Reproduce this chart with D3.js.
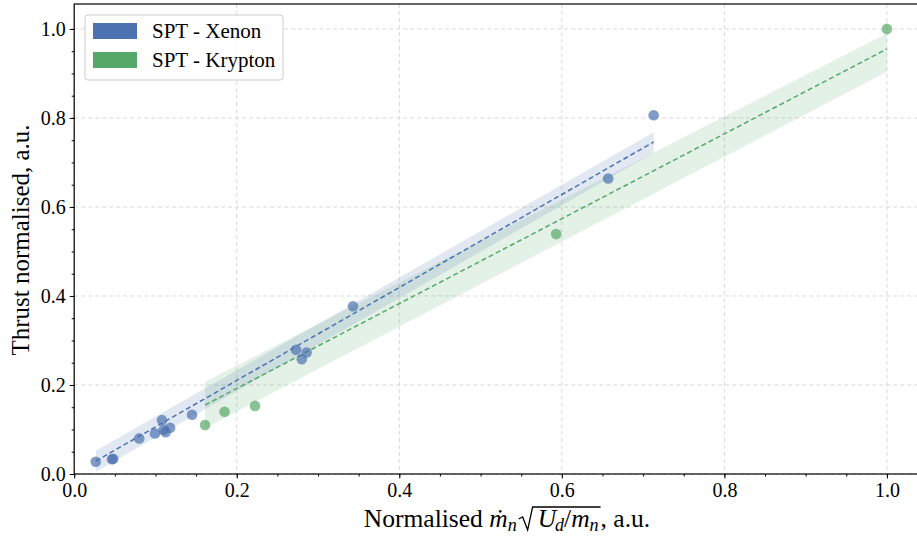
<!DOCTYPE html>
<html>
<head>
<meta charset="utf-8">
<script src="https://cdn.jsdelivr.net/npm/d3@7"></script>
<style>
  body { margin: 0; background: #fff; }
  svg text { font-family: "Liberation Serif", "DejaVu Serif", serif; fill: #000; }
</style>
</head>
<body>
<div id="chart"></div>
<script>
// values
const xenonX = [0.0265, 0.048, 0.0465, 0.080, 0.0994, 0.108, 0.110, 0.1126, 0.118, 0.145, 0.273, 0.286, 0.280, 0.343, 0.657, 0.713];
const xenonY = [0.0276, 0.034, 0.033, 0.080, 0.091, 0.121, 0.099, 0.094, 0.104, 0.133, 0.279, 0.273, 0.258, 0.377, 0.664, 0.806];
const kryptonX = [0.161, 0.185, 0.2225, 0.593, 1.0];
const kryptonY = [0.110, 0.140, 0.153, 0.539, 1.0];

// fitted lines and their shaded bands (endpoints)
const xenonFitX = [0.0265, 0.713];
const xenonFitY = [0.029, 0.746];
const xenonBandHi = [0.052, 0.768];
const xenonBandLo = [0.005, 0.722];
const kryptonFitX = [0.161, 1.0];
const kryptonFitY = [0.155, 0.955];
const kryptonBandHi = [0.207, 0.990];
const kryptonBandLo = [0.103, 0.904];

const majorTicks = [0.0, 0.2, 0.4, 0.6, 0.8, 1.0];
const minorTicks = d3.range(0, 21).map(i => i * 0.05);
const seriesNames = ["SPT - Xenon", "SPT - Krypton"];
const colors = ["#4C72B0", "#55A868"];

const width = 917, height = 545;
const plot = { left: 74.2, right: 917, top: 4, bottom: 474 };

const svg = d3.select("#chart").append("svg")
    .attr("width", width)
    .attr("height", height);

const x = d3.scaleLinear().domain([0, 1.037]).range([plot.left, plot.right]);
const y = d3.scaleLinear().domain([0, 1.056]).range([plot.bottom, plot.top]);

// grid
const grid = svg.append("g");
grid.selectAll(".vg").data(majorTicks).enter().append("line")
    .attr("x1", d => x(d)).attr("x2", d => x(d))
    .attr("y1", plot.top).attr("y2", plot.bottom)
    .attr("stroke", "#d9d9d9").attr("stroke-width", 1).attr("stroke-dasharray", "4,3");
grid.selectAll(".hg").data(majorTicks).enter().append("line")
    .attr("y1", d => y(d)).attr("y2", d => y(d))
    .attr("x1", plot.left).attr("x2", plot.right)
    .attr("stroke", "#d9d9d9").attr("stroke-width", 1).attr("stroke-dasharray", "4,3");

const fits = [
    { fx: xenonFitX, fy: xenonFitY, hi: xenonBandHi, lo: xenonBandLo, c: colors[0] },
    { fx: kryptonFitX, fy: kryptonFitY, hi: kryptonBandHi, lo: kryptonBandLo, c: colors[1] }
];

// bands
const area = d3.area().x(d => x(d.x)).y0(d => y(d.lo)).y1(d => y(d.hi));
fits.forEach(f => {
    const pts = f.fx.map((v, i) => ({ x: v, lo: f.lo[i], hi: f.hi[i] }));
    svg.append("path").datum(pts)
        .attr("d", area)
        .attr("fill", f.c)
        .attr("fill-opacity", 0.16);
});

// fit lines
const line = d3.line().x(d => x(d[0])).y(d => y(d[1]));
fits.forEach(f => {
    svg.append("path").datum(f.fx.map((v, i) => [v, f.fy[i]]))
        .attr("d", line)
        .attr("fill", "none")
        .attr("stroke", f.c)
        .attr("stroke-width", 1.5)
        .attr("stroke-dasharray", "5,3");
});

// points
const sets = [
    { xs: xenonX, ys: xenonY, c: colors[0] },
    { xs: kryptonX, ys: kryptonY, c: colors[1] }
];
sets.forEach(s => {
    svg.append("g").selectAll("circle")
        .data(s.xs.map((v, i) => [v, s.ys[i]]))
        .enter().append("circle")
        .attr("cx", d => x(d[0]))
        .attr("cy", d => y(d[1]))
        .attr("r", 5.3)
        .attr("fill", s.c)
        .attr("fill-opacity", 0.7);
});

// axes
function styleAxis(g) {
    g.select(".domain").remove();
    g.selectAll(".tick line").attr("stroke", "#000").attr("stroke-width", 1);
    g.selectAll(".tick text").style("font-size", "20px");
}
svg.append("g")
    .attr("transform", `translate(0,${plot.bottom})`)
    .call(d3.axisBottom(x).tickValues(minorTicks).tickSize(2.5).tickFormat(""))
    .call(styleAxis);
svg.append("g")
    .attr("transform", `translate(0,${plot.bottom})`)
    .call(d3.axisBottom(x).tickValues(majorTicks).tickSize(4.5).tickPadding(4).tickFormat(d3.format(".1f")))
    .call(styleAxis);
svg.append("g")
    .attr("transform", `translate(${plot.left},0)`)
    .call(d3.axisLeft(y).tickValues(minorTicks).tickSize(2.5).tickFormat(""))
    .call(styleAxis);
svg.append("g")
    .attr("transform", `translate(${plot.left},0)`)
    .call(d3.axisLeft(y).tickValues(majorTicks).tickSize(4.5).tickPadding(4).tickFormat(d3.format(".1f")))
    .call(styleAxis);

// frame
svg.append("rect")
    .attr("x", plot.left).attr("y", plot.top)
    .attr("width", plot.right - plot.left + 2).attr("height", plot.bottom - plot.top)
    .attr("fill", "none").attr("stroke", "#000").attr("stroke-width", 1.2);

// y label
svg.append("text")
    .attr("transform", "translate(29,240) rotate(-90)")
    .attr("text-anchor", "middle")
    .attr("fill", "#000")
    .style("opacity", 0.99)
    .style("font-size", "25px")
    .text("Thrust normalised, a.u.");

// x label with math pieces, laid out one after another
const xl = svg.append("g");
const base = 527, fs = 25.5, sub = 18;
let cx = 0;
function piece(t, opts) {
    const el = xl.append("text")
        .attr("x", cx)
        .attr("y", base + (opts.dy || 0))
        .style("font-size", (opts.size || fs) + "px")
        .style("font-style", opts.italic ? "italic" : "normal")
        .text(t);
    cx += el.node().getComputedTextLength() + (opts.after || 0);
    return el;
}
piece("Normalised\u00a0", {});
piece("\u1E41", { italic: true });
piece("n", { italic: true, size: sub, dy: 4, after: 2 });
const radStart = cx;
cx += 19;
const overStart = cx - 5;
piece("U", { italic: true, after: -1 });
piece("d", { italic: true, size: sub, dy: 4 });
piece("/", {});
piece("m", { italic: true });
piece("n", { italic: true, size: sub, dy: 4, after: 2 });
const overEnd = cx;
xl.append("path")
    .attr("d", `M${radStart},${base - 8} L${radStart + 4},${base - 10} L${radStart + 9},${base + 3} L${overStart},${base - 20} L${overEnd},${base - 20}`)
    .attr("fill", "none").attr("stroke", "#000").attr("stroke-width", 1.3);
piece(", a.u.", {});
const totalW = cx;
xl.attr("transform", `translate(${507 - totalW / 2},0)`);

// legend
const lg = svg.append("g").attr("transform", "translate(85,15)");
lg.append("rect")
    .attr("width", 198).attr("height", 65)
    .attr("rx", 3)
    .attr("fill", "#fff").attr("fill-opacity", 0.8)
    .attr("stroke", "#cccccc").attr("stroke-width", 1);
const items = lg.selectAll(".item").data(seriesNames).enter().append("g")
    .attr("transform", (d, i) => `translate(8,${8 + i * 29})`);
items.append("rect")
    .attr("width", 44).attr("height", 16)
    .attr("fill", (d, i) => colors[i]);
items.append("text")
    .attr("x", 59).attr("y", 15)
    .style("font-size", "21px")
    .text(d => d);
</script>
</body>
</html>
